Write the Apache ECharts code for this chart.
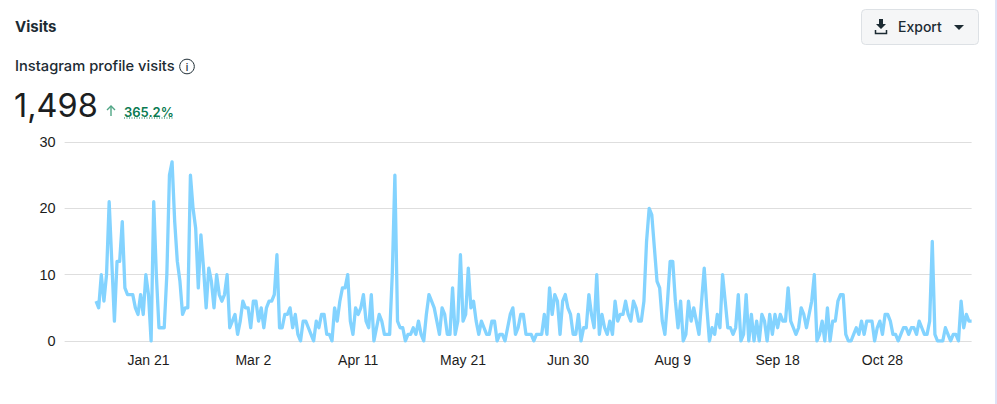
<!DOCTYPE html>
<html><head><meta charset="utf-8">
<style>html,body{margin:0;padding:0;background:#fff}#c{width:997px;height:404px}</style>
<script src="https://cdn.jsdelivr.net/npm/echarts@6/dist/echarts.min.js"></script>
</head><body><div id="c"></div>
<script>
const visits = [6,5,10,6,10,21,12,3,12,12,18,8,7,7,7,5,4,7,4,10,7,0,21,10,2,2,2,10,25,27,18,12,9,4,5,5,25,20,17,8,16,11,5,11,9,5,10,7,6,7,10,2,3,4,1,3,6,5,5,2,6,6,3,5,2,5,6,6,7,13,2,2,4,4,5,
2,4,1,0,3,3,2,1,0,3,2,4,4,1,1,0,5,3,6,8,8,10,3,1,5,4,5,7,3,2,7,0,2,4,3,1,1,1,10,25,3,2,2,0,1,1,2,1,3,1,0,4,7,6,5,3,1,5,4,1,1,8,1,3,13,3,4,11,5,6,3,1,3,2,1,1,3,3,0,1,1,0,2,4,5,1,2,4,4,
1,1,1,0,1,1,1,4,1,8,4,7,6,1,6,7,5,4,1,1,4,0,2,2,7,4,2,10,1,4,2,1,3,1,6,3,4,4,6,4,3,6,5,3,3,6,15,20,19,14,9,8,3,1,6,12,12,6,2,6,0,1,6,3,5,3,1,6,11,5,0,2,1,4,2,10,6,2,2,1,2,7,0,1,7,0,4,0,3,0,
4,3,0,4,1,4,2,4,3,3,8,3,2,1,2,5,4,2,4,6,10,0,1,3,0,5,0,3,3,6,7,7,1,0,0,1,2,1,3,1,3,3,3,0,2,3,1,4,4,3,1,1,0,1,2,2,1,2,2,1,3,2,1,1,3,15,1,0,0,0,2,1,0,1,1,0,6,2,4,3,3];
const tickLabels = ['Jan 21','Mar 2','Apr 11','May 21','Jun 30','Aug 9','Sep 18','Oct 28'];
const yTicks = [0,10,20,30];
const leadingDays = 12;
const months = ['Jan','Feb','Mar','Apr','May','Jun','Jul','Aug','Sep','Oct','Nov','Dec'];
const categories = [];
for (let i = -leadingDays; i < visits.length; i++) {
  const d = new Date(Date.UTC(2023, 0, 1 + i));
  categories.push(months[d.getUTCMonth()] + ' ' + d.getUTCDate());
}
const seriesData = new Array(leadingDays).fill(null).concat(visits);
const ink = '#1c2b33';
const sans = 'Inter, "Noto Sans", sans-serif';
const chart = echarts.init(document.getElementById('c'), null, {renderer:'svg'});
chart.setOption({
  animation:false,
  backgroundColor:'#fff',
  grid:{left:64.6,right:25.4,top:142,bottom:63},
  xAxis:{type:'category',data:categories,boundaryGap:false,
    axisLine:{show:false},axisTick:{show:false},splitLine:{show:false},
    axisLabel:{interval:(i,v)=>tickLabels.includes(v)&&i>=leadingDays,color:'#1c1c1c',fontSize:14,margin:12,
      fontFamily:'"Liberation Sans",Arial,sans-serif',hideOverlap:false}},
  yAxis:{type:'value',min:yTicks[0],max:yTicks[yTicks.length-1],interval:yTicks[1]-yTicks[0],
    axisLine:{show:false},axisTick:{show:false},
    splitLine:{lineStyle:{color:'#dedede',width:1}},
    axisLabel:{color:'#1c1c1c',fontSize:14.5,margin:9,fontFamily:'"Liberation Sans",Arial,sans-serif'}},
  series:[{type:'line',data:seriesData,showSymbol:false,connectNulls:false,
    lineStyle:{color:'#83d3ff',width:3.3,join:'round'},itemStyle:{color:'#83d3ff'}}],
  graphic:[
    {type:'rect',shape:{x:995,y:0,width:2,height:404},style:{fill:'#dfe2f6'}},
    {type:'text',left:15,top:19,style:{text:'Visits',font:'700 15px '+sans,fill:ink}},
    {type:'text',left:15,top:58,style:{text:'Instagram profile visits',font:'500 14.7px '+sans,fill:ink}},
    {type:'circle',shape:{cx:187,cy:66.5,r:7.3},style:{fill:'none',stroke:ink,lineWidth:1}},
    {type:'text',x:187,y:66.5,style:{text:'i',font:'500 10px '+sans,fill:ink,align:'center',verticalAlign:'middle'}},
    {type:'text',left:14,top:89,style:{text:'1,498',font:'400 32.5px '+sans,fill:'#1c1e21'}},
    {type:'polyline',shape:{points:[[111,116],[111,106]]},style:{stroke:'#4fa585',lineWidth:1.4,fill:'none'}},
    {type:'polyline',shape:{points:[[107,110],[111,106],[115,110]]},style:{stroke:'#4fa585',lineWidth:1.4,fill:'none'}},
    {type:'text',left:124,top:105,style:{text:'365.2%',font:'600 13px '+sans,fill:'#0a7a51'}},
    {type:'line',shape:{x1:124,y1:118,x2:174,y2:118},style:{stroke:'#0a7a51',lineWidth:1,lineDash:[1,1.5]}},
    {type:'rect',shape:{x:861.5,y:9.5,width:117,height:35,r:4},style:{fill:'#f5f6f7',stroke:'#dde1e5',lineWidth:1}},
    {type:'polygon',shape:{points:[[879,19],[883,19],[883,24],[886,24],[881,29],[876,24],[879,24]]},style:{fill:ink}},
    {type:'polyline',shape:{points:[[875.5,30],[875.5,33.5],[886.5,33.5],[886.5,30]]},style:{stroke:ink,lineWidth:1.5,fill:'none'}},
    {type:'text',left:898,top:19,style:{text:'Export',font:'500 14px '+sans,fill:ink}},
    {type:'polygon',shape:{points:[[954,25],[964,25],[959,30]]},style:{fill:ink}}
  ]
});
</script></body></html>
